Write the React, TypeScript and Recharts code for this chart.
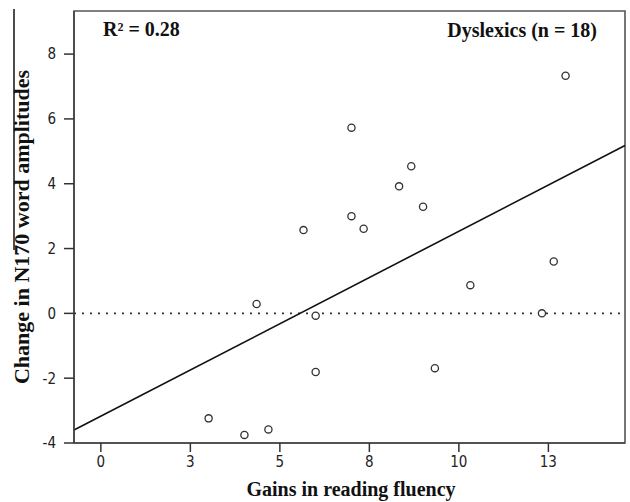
import React from "react";
import {
  ScatterChart,
  Scatter,
  XAxis,
  YAxis,
  ReferenceLine,
  ReferenceArea,
} from "recharts";

const fluencyGains = [12.98, 7.0, 8.67, 8.33, 9.0, 7.0, 7.34, 5.66, 4.35, 6.0, 6.0, 3.01, 4.01, 4.68, 9.33, 10.32, 12.32, 12.65];
const n170Change = [7.33, 5.73, 4.54, 3.92, 3.29, 3.0, 2.61, 2.57, 0.29, -0.07, -1.81, -3.24, -3.75, -3.58, -1.69, 0.87, 0.0, 1.6];
const xTicks = [0, 2.5, 5, 7.5, 10, 12.5];
const yTicks = [-4, -2, 0, 2, 4, 6, 8];
const xDomain = [-0.75, 14.64];
const yDomain = [-4, 9.33];
const fitLine = [
  { x: -0.75, y: -3.6 },
  { x: 14.64, y: 5.18 },
];

const points = fluencyGains.map((x, i) => ({ x, y: n170Change[i] }));

const Dot = (props: any) => (
  <circle cx={props.cx} cy={props.cy} r={3.6} fill="#fff" stroke="#333" strokeWidth={1.3} />
);

const tickStyle = { fontFamily: "DejaVu Sans Condensed, DejaVu Sans", fontSize: 15, fill: "#222" };
const serifBold = { fontFamily: "Liberation Serif, Times New Roman, serif", fontWeight: "bold" as const };

export default function App() {
  return (
    <div style={{ position: "absolute", left: 0, top: 0, width: 630, height: 502, background: "#fff" }}>
      <ScatterChart width={630} height={502} margin={{ top: 11, right: 5, bottom: 0, left: 34 }}>
        <XAxis
          type="number"
          dataKey="x"
          domain={xDomain}
          ticks={xTicks}
          allowDataOverflow
          tickFormatter={(v: number) => String(Math.round(v))}
          tick={tickStyle}
          tickSize={9}
          tickMargin={4}
          axisLine={{ stroke: "#444", strokeWidth: 1.6 }}
          tickLine={{ stroke: "#333", strokeWidth: 1.5 }}
          height={59}
        />
        <YAxis
          type="number"
          dataKey="y"
          domain={yDomain}
          ticks={yTicks}
          allowDataOverflow
          tick={tickStyle}
          tickSize={10}
          tickMargin={8}
          axisLine={{ stroke: "#444", strokeWidth: 1.6 }}
          tickLine={{ stroke: "#333", strokeWidth: 1.5 }}
          width={40}
        />
        <ReferenceArea x1={xDomain[0]} x2={xDomain[1]} y1={yDomain[0]} y2={yDomain[1]} fill="none" stroke="#555" strokeWidth={1.6} ifOverflow="visible" />
        <ReferenceLine y={0} stroke="#333" strokeWidth={1.6} strokeDasharray="2 6" />
        <ReferenceLine segment={fitLine} stroke="#111" strokeWidth={1.6} ifOverflow="visible" />
        <Scatter data={points} shape={Dot} isAnimationActive={false} />
        <line x1={14} y1={9} x2={14} y2={250} stroke="#111" strokeWidth={1.5} />
        <text x={103} y={36} style={{ ...serifBold, fontSize: 20, fill: "#111" }}>R² = 0.28</text>
        <text x={597} y={37} textAnchor="end" style={{ ...serifBold, fontSize: 20, fill: "#111" }}>Dyslexics (n = 18)</text>
        <text x={351} y={496} textAnchor="middle" style={{ ...serifBold, fontSize: 20, fill: "#111" }}>Gains in reading fluency</text>
        <text x={29} y={227} textAnchor="middle" transform="rotate(-90 29 227)" style={{ ...serifBold, fontSize: 22, fill: "#111" }}>Change in N170 word amplitudes</text>
      </ScatterChart>
    </div>
  );
}
